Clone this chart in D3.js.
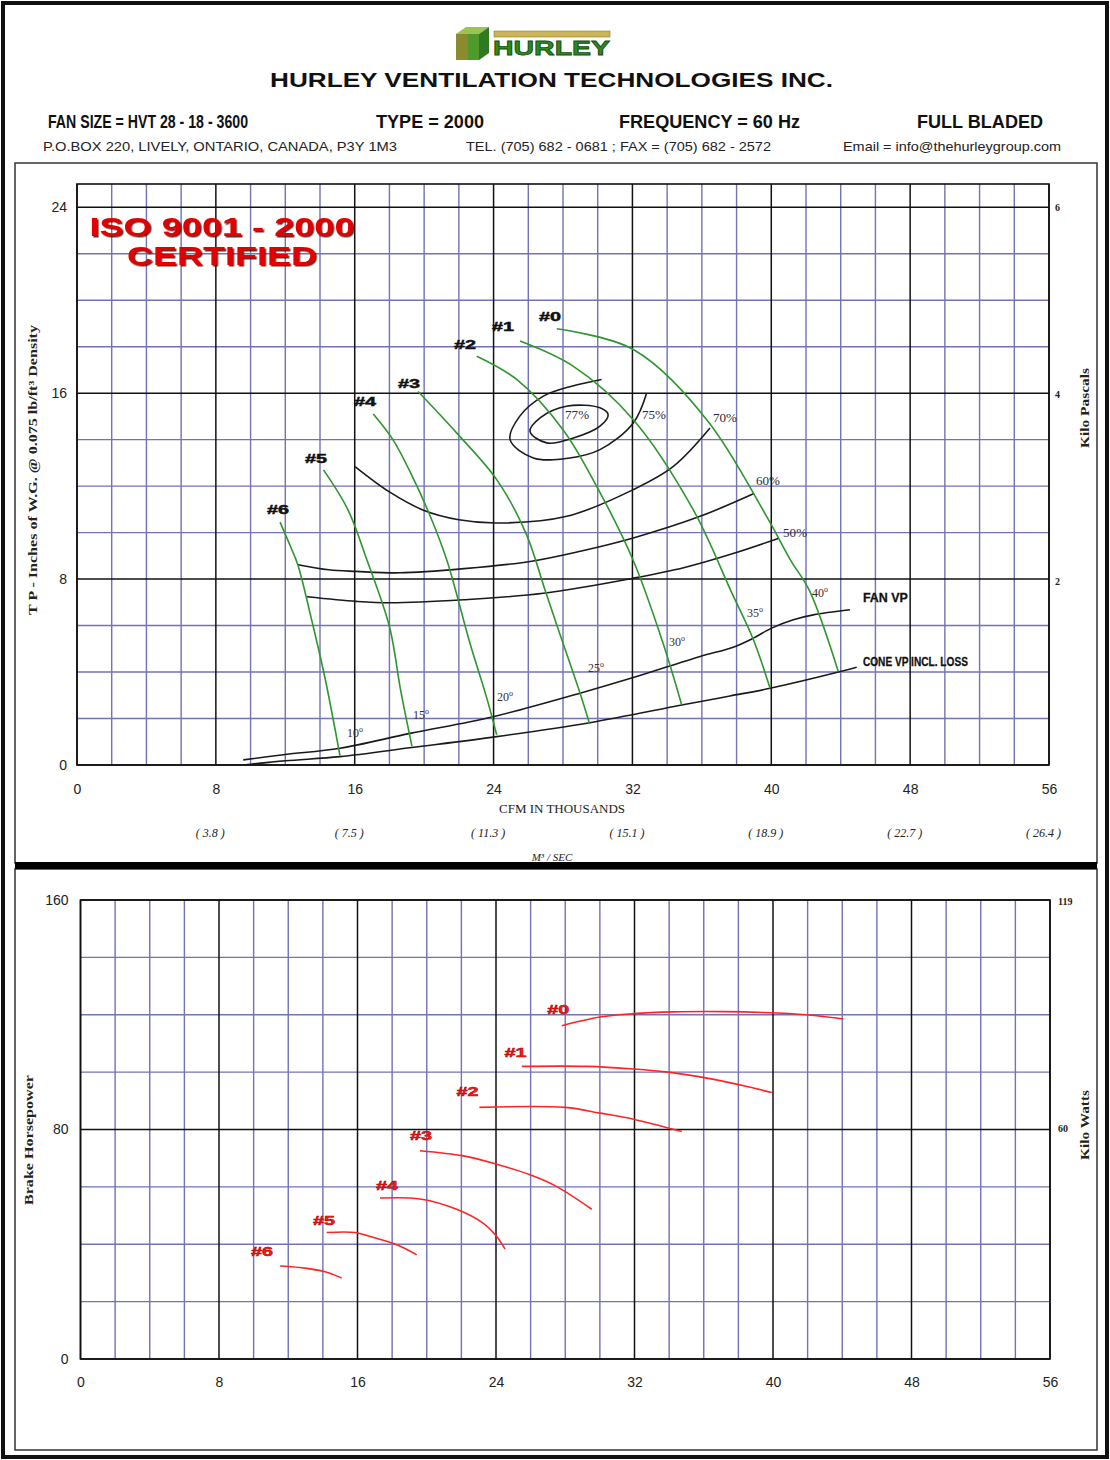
<!DOCTYPE html>
<html>
<head>
<meta charset="utf-8">
<script src="https://cdn.jsdelivr.net/npm/d3@7"></script>
<style>
  body { margin: 0; background: #fff; }
  svg { display: block; }
  text { font-family: "Liberation Sans", Arial, sans-serif; }
  .serif { font-family: "Liberation Serif", "Times New Roman", serif; }
</style>
</head>
<body>
<svg id="chart" width="1110" height="1460"></svg>
<script>
// ---- data (CFM in thousands on x) ----
var cfmTicks = [0, 8, 16, 24, 32, 40, 48, 56];
var m3sLabels = ["( 3.8 )", "( 7.5 )", "( 11.3 )", "( 15.1 )", "( 18.9 )", "( 22.7 )", "( 26.4 )"];
var tpTicks = [0, 8, 16, 24];
var kpaTicks = [2, 4, 6];
var bhpTicks = [0, 80, 160];
var kwTicks = [60, 119];

var wheelNames = ["#0", "#1", "#2", "#3", "#4", "#5", "#6"];
var bladeAngles = ["40", "35", "30", "25", "20", "15", "10"];

// total pressure (in. W.G.) per blade setting
var tp0 = [[27.64, 18.77], [32.05, 17.88], [36.28, 14.86], [39.73, 10.7], [41.1, 8.83], [42.2, 7.5], [43.86, 4.02]];
var tp1 = [[25.52, 18.24], [28.58, 17.16], [32.05, 14.86], [35.5, 10.99], [37.7, 7.45], [38.97, 5.39], [39.93, 3.3]];
var tp2 = [[23.03, 17.59], [25.33, 16.59], [28.0, 14.43], [29.94, 11.99], [32.03, 8.83], [33.76, 5.25], [34.84, 2.58]];
var tp3 = [[19.65, 16.07], [21.87, 14.29], [24.18, 12.28], [25.85, 10.0], [26.96, 7.54], [27.7, 5.9], [28.98, 3.1], [29.52, 1.8]];
var tp4 = [[17.07, 15.1], [18.2, 14.0], [19.2, 12.6], [20.3, 10.8], [21.3, 8.83], [22.64, 5.24], [23.6, 2.9], [24.18, 1.3]];
var tp5 = [[14.2, 12.7], [15.6, 11.0], [16.7, 8.83], [18.0, 5.96], [18.65, 3.2], [19.3, 0.8]];
var tp6 = [[11.7, 10.45], [12.3, 9.4], [12.73, 8.6], [13.5, 6.3], [14.3, 3.7], [15.15, 0.4]];
var tpCurves = [tp0, tp1, tp2, tp3, tp4, tp5, tp6];

// where the "#n" tags and blade angle tags sit (data units)
var tpTagAt = [[27.25, 19.34], [24.54, 18.91], [22.35, 18.1], [19.13, 16.43], [16.59, 15.68], [13.77, 13.23], [11.58, 11.03]];
var angleTagAt = [[42.86, 7.41], [39.12, 6.55], [34.63, 5.3], [29.96, 4.18], [24.72, 2.93], [19.88, 2.15], [16.07, 1.38]];

// efficiency contours
var eff77 = [[26.1, 14.36], [26.7, 14.95], [28.2, 15.44], [30.13, 15.37], [30.6, 15.08], [30.13, 14.58], [28.6, 14.07], [27.06, 13.86]];
var eff75 = [[30.22, 16.59], [28.5, 16.3], [26.87, 15.87], [25.5, 15.0], [24.95, 14.0], [26.29, 13.21], [28.3, 13.2], [30.13, 13.57], [32.05, 14.72], [32.82, 16.01]];
var eff70 = [[16.02, 12.84], [18.0, 11.75], [20.0, 10.95], [22.0, 10.55], [24.18, 10.41], [28.22, 10.7], [32.05, 11.85], [34.36, 12.85], [36.47, 14.5]];
var eff60 = [[12.73, 8.62], [14.5, 8.4], [16.1, 8.33], [18.6, 8.27], [22.3, 8.45], [26.1, 8.76], [29.0, 9.2], [32.05, 9.77], [35.9, 10.7], [38.97, 11.67]];
var eff50 = [[13.25, 7.24], [16.1, 7.04], [18.03, 6.98], [22.26, 7.11], [26.87, 7.39], [32.05, 8.04], [35.0, 8.5], [37.8, 9.1], [40.4, 9.75]];
var effNames = ["77%", "75%", "70%", "60%", "50%"];
var effTagAt = [[28.81, 15.08], [33.24, 15.08], [37.33, 14.95], [39.81, 12.24], [41.37, 10.0]];

var fanVp = [[9.58, 0.22], [12.0, 0.45], [15.15, 0.72], [19.19, 1.36], [23.98, 2.08], [28.98, 3.09], [32.0, 3.75], [35.9, 4.67], [37.81, 5.07], [38.97, 5.46], [40.02, 5.89], [41.27, 6.25], [42.42, 6.46], [44.53, 6.68]];
var coneVp = [[9.58, 0.0], [12.0, 0.18], [15.15, 0.36], [19.28, 0.75], [24.18, 1.22], [29.55, 1.82], [34.84, 2.58], [37.62, 2.97], [39.93, 3.3], [43.98, 4.02], [44.92, 4.21]];
var vpNames = ["FAN VP", "CONE VP INCL. LOSS"];
var vpTagAt = [[45.28, 7.24], [45.28, 4.48]];

// brake horsepower per blade setting
var bhp0 = [[27.8, 116.2], [30.01, 119.2], [31.94, 120.4], [34.25, 121.0], [37.14, 121.1], [39.45, 120.8], [41.95, 120.0], [44.07, 118.5]];
var bhp1 = [[25.49, 102.0], [29.24, 102.0], [31.94, 101.1], [34.06, 99.9], [36.18, 97.9], [38.49, 95.0], [39.93, 92.9]];
var bhp2 = [[23.04, 87.7], [27.99, 87.7], [30.01, 85.7], [31.94, 83.6], [34.73, 79.3]];
var bhp3 = [[19.61, 72.6], [22.11, 70.8], [24.04, 67.9], [25.97, 64.2], [27.51, 60.1], [29.53, 52.2]];
var bhp4 = [[17.3, 56.1], [19.61, 55.8], [21.73, 52.2], [23.27, 47.3], [24.04, 42.7], [24.52, 38.3]];
var bhp5 = [[14.22, 44.1], [15.86, 44.1], [16.72, 42.7], [18.27, 39.8], [19.42, 36.3]];
var bhp6 = [[11.53, 32.4], [13.07, 31.6], [14.32, 30.1], [15.09, 28.2]];
var bhpCurves = [bhp0, bhp1, bhp2, bhp3, bhp4, bhp5, bhp6];
var bhpTagAt = [[27.59, 122.0], [25.13, 107.1], [22.36, 93.3], [19.67, 78.2], [17.71, 60.7], [14.07, 48.5], [10.49, 37.8]];


var svg = d3.select("#chart");
var gridBlue = "#7272b4", ink = "#111", green = "#2e962e", red = "#ff2424";

var xTop = d3.scaleLinear().domain([0, 56]).range([77, 1049]);
var yTop = d3.scaleLinear().domain([0, 25]).range([765, 184]);
var yKpa = d3.scaleLinear().domain([0, 25 * 0.24884]).range([765, 184]);
var xBot = d3.scaleLinear().domain([0, 56]).range([80.5, 1050]);
var yBot = d3.scaleLinear().domain([0, 160]).range([1359, 900]);
var yKw = d3.scaleLinear().domain([0, 160 * 0.7457]).range([1359, 900]);

// drop shadow for the ISO stamp
svg.append("defs").append("filter").attr("id", "stamp")
  .attr("x", "-5%").attr("y", "-20%").attr("width", "110%").attr("height", "140%")
  .append("feDropShadow").attr("dx", 1.5).attr("dy", 1.5).attr("stdDeviation", 0.6)
  .attr("flood-color", "#5a0000").attr("flood-opacity", 0.85);


// ---- frames ----
svg.append("rect").attr("x", 3).attr("y", 3).attr("width", 1104).attr("height", 1454)
  .attr("fill", "none").attr("stroke", ink).attr("stroke-width", 4);
svg.append("rect").attr("x", 15).attr("y", 163).attr("width", 1082).attr("height", 700)
  .attr("fill", "none").attr("stroke", "#333").attr("stroke-width", 1.5);
svg.append("rect").attr("x", 15).attr("y", 869).attr("width", 1082).attr("height", 581)
  .attr("fill", "none").attr("stroke", "#333").attr("stroke-width", 1.5);
svg.append("rect").attr("x", 15).attr("y", 862).attr("width", 1082).attr("height", 7).attr("fill", "#000");


// ---- header ----
function header () {
  var g = svg.append("g");
  // logo: little cube + word mark
  g.append("polygon").attr("points", "456,34 466,27 489,27 479,34").attr("fill", "#9cc454");
  g.append("rect").attr("x", 456).attr("y", 34).attr("width", 12).attr("height", 26).attr("fill", "#8c8a2e");
  g.append("rect").attr("x", 468).attr("y", 34).attr("width", 11).attr("height", 26).attr("fill", "#4e9a2c");
  g.append("polygon").attr("points", "479,34 489,27 489,53 479,60").attr("fill", "#2f7a20");
  g.append("rect").attr("x", 494).attr("y", 31).attr("width", 116).attr("height", 6)
    .attr("fill", "#cbb558").attr("stroke", "#8d7b2c").attr("stroke-width", 0.6);
  g.append("text").attr("x", 493).attr("y", 55).text("HURLEY")
    .attr("font-size", 21).attr("font-weight", 900).attr("fill", "#2c8a1e")
    .attr("stroke", "#174d10").attr("stroke-width", 0.8)
    .attr("textLength", 117).attr("lengthAdjust", "spacingAndGlyphs");

  g.append("text").attr("x", 270).attr("y", 87).text("HURLEY VENTILATION TECHNOLOGIES INC.")
    .attr("font-size", 20).attr("font-weight", "bold").attr("fill", "#111")
    .attr("textLength", 563).attr("lengthAdjust", "spacingAndGlyphs");

  [["FAN SIZE = HVT 28 - 18 - 3600", 48, 200], ["TYPE = 2000", 376, 108],
   ["FREQUENCY = 60 Hz", 619, 181], ["FULL BLADED", 917, 126]].forEach(function (t) {
    g.append("text").attr("x", t[1]).attr("y", 128).text(t[0])
      .attr("font-size", 18).attr("font-weight", "bold").attr("fill", "#111")
      .attr("textLength", t[2]).attr("lengthAdjust", "spacingAndGlyphs");
  });

  [["P.O.BOX 220, LIVELY, ONTARIO, CANADA, P3Y 1M3", 43, 354],
   ["TEL. (705) 682 - 0681 ; FAX = (705) 682 - 2572", 466, 305],
   ["Email = info@thehurleygroup.com", 843, 218]].forEach(function (t) {
    g.append("text").attr("x", t[1]).attr("y", 151).text(t[0])
      .attr("font-size", 13).attr("fill", "#222")
      .attr("textLength", t[2]).attr("lengthAdjust", "spacingAndGlyphs");
  });
}
header();


// ---- grid helper ----
function drawGrid (x, y, xStep, xMajor, yStep, yMajor) {
  var g = svg.append("g");
  var xd = x.domain(), yd = y.domain();
  var xs = d3.range(xd[0], xd[1] + 1e-6, xStep);
  var ys = d3.range(yd[0], yd[1] + 1e-6, yStep);
  var isMajor = function (v, m) { return Math.abs(v % m) < 1e-6; };

  [[xs.filter(function (v) { return !isMajor(v, xMajor); }), gridBlue, 1.4, true],
   [ys.filter(function (v) { return !isMajor(v, yMajor); }), gridBlue, 1.4, false],
   [xs.filter(function (v) { return isMajor(v, xMajor); }), ink, 1.5, true],
   [ys.filter(function (v) { return isMajor(v, yMajor); }), ink, 1.5, false]].forEach(function (s) {
    g.append("g").selectAll("line").data(s[0]).join("line")
      .attr("x1", function (d) { return s[3] ? x(d) : x.range()[0]; })
      .attr("x2", function (d) { return s[3] ? x(d) : x.range()[1]; })
      .attr("y1", function (d) { return s[3] ? y.range()[0] : y(d); })
      .attr("y2", function (d) { return s[3] ? y.range()[1] : y(d); })
      .attr("stroke", s[1]).attr("stroke-width", s[2]);
  });

  g.append("rect")
    .attr("x", x.range()[0]).attr("y", y.range()[1])
    .attr("width", x.range()[1] - x.range()[0]).attr("height", y.range()[0] - y.range()[1])
    .attr("fill", "none").attr("stroke", ink).attr("stroke-width", 1.6);
}

function styleAxis (g, size, cls, weight) {
  g.select(".domain").remove();
  g.selectAll("text").attr("font-size", size).attr("fill", "#222")
    .attr("font-family", null).attr("class", cls || null).attr("font-weight", weight || null);
  return g;
}

function curveLine (x, y, closed) {
  return d3.line().x(function (d) { return x(d[0]); }).y(function (d) { return y(d[1]); })
    .curve(closed ? d3.curveCatmullRomClosed.alpha(0.5) : d3.curveCatmullRom.alpha(0.5));
}


// ================= TOP : pressure chart =================
drawGrid(xTop, yTop, 2, 8, 2, 8);

styleAxis(svg.append("g").attr("transform", "translate(0,765)")
  .call(d3.axisBottom(xTop).tickValues(cfmTicks).tickSize(0).tickPadding(19)), 14);
styleAxis(svg.append("g").attr("transform", "translate(77,0)")
  .call(d3.axisLeft(yTop).tickValues(tpTicks).tickSize(0).tickPadding(10)), 14);
styleAxis(svg.append("g").attr("transform", "translate(1049,3)")
  .call(d3.axisRight(yKpa).tickValues(kpaTicks).tickSize(0).tickPadding(6).tickFormat(d3.format("d"))), 10, "serif", "bold");
styleAxis(svg.append("g").attr("transform", "translate(-6,765)")
  .call(d3.axisBottom(xTop).tickValues(cfmTicks.slice(1)).tickSize(0).tickPadding(63)
    .tickFormat(function (d, i) { return m3sLabels[i]; })), 12, "serif")
  .selectAll("text").attr("font-style", "italic");

svg.append("text").attr("class", "serif").attr("x", 499).attr("y", 813).text("CFM IN THOUSANDS")
  .attr("font-size", 12).attr("fill", "#222").attr("textLength", 126).attr("lengthAdjust", "spacingAndGlyphs");
svg.append("text").attr("class", "serif").attr("x", 552).attr("y", 861).attr("text-anchor", "middle")
  .attr("font-size", 11).attr("font-style", "italic").attr("fill", "#222").text("M³ / SEC");

svg.append("text").attr("class", "serif").attr("transform", "translate(37,470) rotate(-90)")
  .attr("text-anchor", "middle").attr("font-size", 13).attr("font-weight", "bold").attr("fill", "#222")
  .attr("textLength", 290).attr("lengthAdjust", "spacingAndGlyphs")
  .text("T P - Inches of W.G. @ 0.075 lb/ft³ Density");
svg.append("text").attr("class", "serif").attr("transform", "translate(1089,408) rotate(-90)")
  .attr("text-anchor", "middle").attr("font-size", 13).attr("font-weight", "bold").attr("fill", "#222")
  .attr("textLength", 80).attr("lengthAdjust", "spacingAndGlyphs").text("Kilo Pascals");

// ISO stamp
[["ISO 9001 - 2000", 236, 265], ["CERTIFIED", 265, 190]].forEach(function (t) {
  svg.append("text").attr("x", 222).attr("y", t[1]).attr("text-anchor", "middle")
    .attr("font-size", 26).attr("font-weight", "bold").attr("fill", "#e30000")
    .attr("filter", "url(#stamp)")
    .attr("textLength", t[2]).attr("lengthAdjust", "spacingAndGlyphs").text(t[0]);
});

var topCurves = svg.append("g").attr("fill", "none").attr("stroke-linejoin", "round");

// efficiency contours and velocity pressure lines (black)
[eff77, eff75, eff70, eff60, eff50, fanVp, coneVp].forEach(function (c, i) {
  topCurves.append("path").attr("d", curveLine(xTop, yTop, i === 0)(c))
    .attr("stroke", "#1a1a1a").attr("stroke-width", 1.6);
});

// blade setting curves (green)
topCurves.selectAll(".tp").data(tpCurves).join("path")
  .attr("d", function (d) { return curveLine(xTop, yTop)(d); })
  .attr("stroke", green).attr("stroke-width", 1.6);

svg.append("g").selectAll("text").data(wheelNames).join("text")
  .attr("x", function (d, i) { return xTop(tpTagAt[i][0]); })
  .attr("y", function (d, i) { return yTop(tpTagAt[i][1]) + 5; })
  .attr("text-anchor", "middle").attr("font-size", 13).attr("font-weight", 900)
  .attr("fill", "#111").attr("stroke", "#111").attr("stroke-width", 0.5)
  .attr("textLength", 22).attr("lengthAdjust", "spacingAndGlyphs")
  .text(function (d) { return d; });

var angleTags = svg.append("g").selectAll("text").data(bladeAngles).join("text")
  .attr("class", "serif")
  .attr("x", function (d, i) { return xTop(angleTagAt[i][0]) - 9; })
  .attr("y", function (d, i) { return yTop(angleTagAt[i][1]) + 4; })
  .attr("font-size", 12).attr("fill", "#3a2a2a");
angleTags.append("tspan").text(function (d) { return d; });
angleTags.append("tspan").attr("dy", -5).attr("font-size", 8).text("o");

svg.append("g").selectAll("text").data(effNames).join("text")
  .attr("class", "serif")
  .attr("x", function (d, i) { return xTop(effTagAt[i][0]); })
  .attr("y", function (d, i) { return yTop(effTagAt[i][1]) + 4; })
  .attr("text-anchor", "middle").attr("font-size", 12).attr("fill", "#2a2a3a")
  .attr("textLength", 24).attr("lengthAdjust", "spacingAndGlyphs")
  .text(function (d) { return d; });

svg.append("g").selectAll("text").data(vpNames).join("text")
  .attr("x", function (d, i) { return xTop(vpTagAt[i][0]); })
  .attr("y", function (d, i) { return yTop(vpTagAt[i][1]) + 5; })
  .attr("font-size", 13).attr("font-weight", "bold").attr("fill", "#111")
  .attr("stroke", "#111").attr("stroke-width", 0.3)
  .attr("textLength", function (d, i) { return i === 0 ? 45 : 105; })
  .attr("lengthAdjust", "spacingAndGlyphs")
  .text(function (d) { return d; });


// ================= BOTTOM : brake horsepower =================
drawGrid(xBot, yBot, 2, 8, 20, 80);

styleAxis(svg.append("g").attr("transform", "translate(0,1359)")
  .call(d3.axisBottom(xBot).tickValues(cfmTicks).tickSize(0).tickPadding(18)), 14);
styleAxis(svg.append("g").attr("transform", "translate(80.5,0)")
  .call(d3.axisLeft(yBot).tickValues(bhpTicks).tickSize(0).tickPadding(12)), 14);
styleAxis(svg.append("g").attr("transform", "translate(1050,0)")
  .call(d3.axisRight(yKw).tickValues(kwTicks).tickSize(0).tickPadding(8)), 10, "serif", "bold");

svg.append("text").attr("class", "serif").attr("transform", "translate(33,1140) rotate(-90)")
  .attr("text-anchor", "middle").attr("font-size", 13).attr("font-weight", "bold").attr("fill", "#222")
  .attr("textLength", 130).attr("lengthAdjust", "spacingAndGlyphs").text("Brake Horsepower");
svg.append("text").attr("class", "serif").attr("transform", "translate(1089,1125) rotate(-90)")
  .attr("text-anchor", "middle").attr("font-size", 13).attr("font-weight", "bold").attr("fill", "#222")
  .attr("textLength", 70).attr("lengthAdjust", "spacingAndGlyphs").text("Kilo Watts");

svg.append("g").attr("fill", "none").selectAll("path").data(bhpCurves).join("path")
  .attr("d", function (d) { return curveLine(xBot, yBot)(d); })
  .attr("stroke", red).attr("stroke-width", 1.6);

svg.append("g").selectAll("text").data(wheelNames).join("text")
  .attr("x", function (d, i) { return xBot(bhpTagAt[i][0]); })
  .attr("y", function (d, i) { return yBot(bhpTagAt[i][1]) + 5; })
  .attr("text-anchor", "middle").attr("font-size", 13).attr("font-weight", 900)
  .attr("fill", "#ff1a1a").attr("stroke", "#b00000").attr("stroke-width", 0.5)
  .attr("textLength", 22).attr("lengthAdjust", "spacingAndGlyphs")
  .text(function (d) { return d; });
</script>
</body>
</html>
